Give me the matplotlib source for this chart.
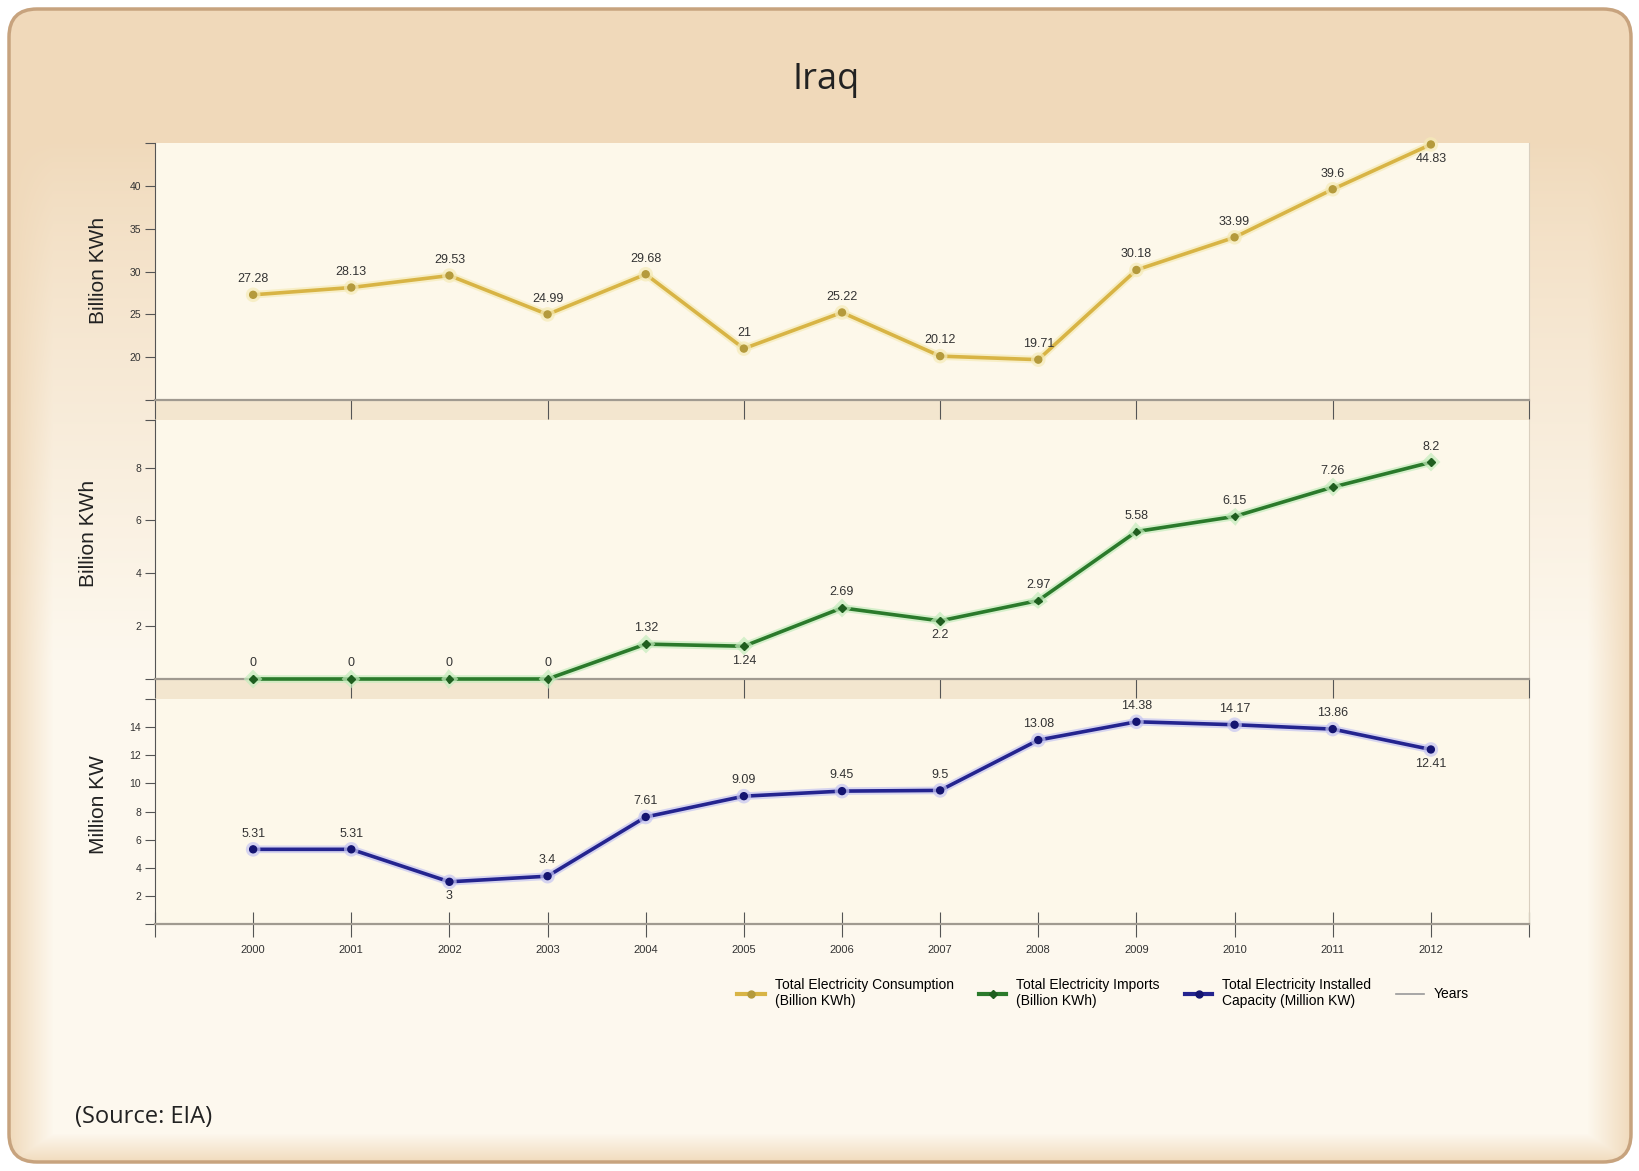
import matplotlib.pyplot as plt
import matplotlib.patheffects as pe
from matplotlib.patches import FancyBboxPatch, Rectangle
from matplotlib.lines import Line2D
import numpy as np

# data
years = [2000, 2001, 2002, 2003, 2004, 2005, 2006, 2007, 2008, 2009, 2010, 2011, 2012]
consumption = [27.28, 28.13, 29.53, 24.99, 29.68, 21, 25.22, 20.12, 19.71, 30.18, 33.99, 39.6, 44.83]
imports = [0, 0, 0, 0, 1.32, 1.24, 2.69, 2.2, 2.97, 5.58, 6.15, 7.26, 8.2]
capacity = [5.31, 5.31, 3, 3.4, 7.61, 9.09, 9.45, 9.5, 13.08, 14.38, 14.17, 13.86, 12.41]

# which labels sit under the point
cons_below = [2012]
imp_below = [2005, 2007]
cap_below = [2002, 2012]

W, H = 1640, 1171
fig = plt.figure(figsize=(W / 100, H / 100), dpi=100)
fig.patch.set_facecolor('white')

narrow = ['Liberation Sans Narrow', 'Liberation Sans', 'DejaVu Sans']

# background frame: tan at the top, fading to cream lower down
bg = fig.add_axes([0, 0, 1, 1])
bg.set_xlim(0, W)
bg.set_ylim(H, 0)
bg.axis('off')
xx, yy = np.meshgrid(np.arange(W), np.arange(H))
edge = np.clip(np.minimum.reduce([(xx - 8) / 45, (W - 8 - xx) / 45, (H - 8 - yy) / 30]), 0, 1)
v = np.clip((yy - 140) / 520, 0, 1) ** 0.8
t = v * edge
tan = np.array([240, 217, 186]) / 255
light = np.array([253, 248, 238]) / 255
img = tan[None, None, :] * (1 - t[..., None]) + light[None, None, :] * t[..., None]
frame = FancyBboxPatch((9, 9), W - 18, H - 18, boxstyle='round,pad=0,rounding_size=28',
                       facecolor='none', edgecolor='#c7a37e', lw=2.5)
bg.add_patch(frame)
im = bg.imshow(img, extent=(0, W, H, 0), zorder=0)
im.set_clip_path(frame)
bg.add_patch(Rectangle((155, 398), 1374, 305, facecolor='#f3e6cf', edgecolor='none', zorder=1))

fig.text(826 / W, 1 - 80 / H, 'Iraq', ha='center', va='center', fontsize=26,
         family=['Open Sans', 'DejaVu Sans'], color='#222222')
fig.text(75 / W, 1 - 1117 / H, '(Source: EIA)', ha='left', va='center', fontsize=17,
         family=['Open Sans', 'DejaVu Sans'], color='#222222')

left, width = 155 / W, 1374 / W
ax1 = fig.add_axes([left, 1 - 400 / H, width, (400 - 143) / H])
ax2 = fig.add_axes([left, 1 - 679 / H, width, (679 - 420) / H])
ax3 = fig.add_axes([left, 1 - 924 / H, width, (924 - 699) / H])


def style(ax, ylim, yticks, ylabels, every_year):
    ax.set_facecolor('#fdf8ea')
    ax.set_xlim(1999, 2013)
    ax.set_ylim(*ylim)
    ax.spines['top'].set_visible(False)
    ax.spines['right'].set_color('#d9cfbf')
    ax.spines['left'].set_color('#555555')
    ax.spines['bottom'].set_color('#a09a90')
    ax.spines['bottom'].set_linewidth(1.6)
    ax.set_yticks(yticks)
    ax.set_yticklabels(ylabels, fontsize=7.5, family=narrow, color='#333333')
    ax.tick_params(axis='y', direction='out', length=7, color='#555555', pad=3)
    if every_year:
        ax.set_xticks(range(1999, 2014))
        ax.set_xticklabels([''] + [str(y) for y in years] + [''], fontsize=8,
                           family=narrow, color='#333333')
        ax.tick_params(axis='x', direction='inout', length=18, color='#555555', pad=6)
    else:
        ax.set_xticks(range(1999, 2014, 2))
        ax.set_xticklabels([])
        ax.tick_params(axis='x', direction='out', length=14, color='#555555')


style(ax1, (15, 45), [15, 20, 25, 30, 35, 40, 45], ['', '20', '25', '30', '35', '40', ''], False)
style(ax2, (0, 9.8), [0, 2, 4, 6, 8, 9.8], ['', '2', '4', '6', '8', ''], False)
style(ax3, (0, 16), [0, 2, 4, 6, 8, 10, 12, 14, 16], ['', '2', '4', '6', '8', '10', '12', '14', ''], True)

series = [
    (ax1, consumption, cons_below, '#d8b445', '#b49a3c', '#f5ebb8', 'o'),
    (ax2, imports, imp_below, '#2b7a2b', '#1f5e1f', '#c4ecbd', 'D'),
    (ax3, capacity, cap_below, '#24248f', '#141470', '#c6c6f2', 'o'),
]
for ax, vals, below, col, mcol, glow, mk in series:
    ax.plot(years, vals, color=col, lw=2.6, marker=mk, markersize=5 if mk == 'o' else 4,
            markerfacecolor=mcol, markeredgecolor=mcol, clip_on=False, zorder=3,
            path_effects=[pe.Stroke(linewidth=5.5, foreground=glow, alpha=0.7), pe.Normal()])
    for x, v in zip(years, vals):
        if x in below:
            ax.annotate(f'{v:g}', (x, v), xytext=(0, -6), textcoords='offset points',
                        ha='center', va='top', fontsize=9, family=narrow, color='#333333')
        else:
            ax.annotate(f'{v:g}', (x, v), xytext=(0, 7), textcoords='offset points',
                        ha='center', va='bottom', fontsize=9, family=narrow, color='#333333')

lab_font = dict(rotation=90, ha='center', va='center', fontsize=15,
                family=['Liberation Sans', 'DejaVu Sans'], color='#222222')
fig.text(99 / W, 1 - 270 / H, 'Billion KWh', **lab_font)
fig.text(89 / W, 1 - 533 / H, 'Billion KWh', **lab_font)
fig.text(99 / W, 1 - 805 / H, 'Million KW', **lab_font)

handles = [
    Line2D([], [], color='#d8b445', lw=3, marker='o', markersize=5, markerfacecolor='#b49a3c',
           markeredgecolor='#b49a3c'),
    Line2D([], [], color='#2b7a2b', lw=3, marker='D', markersize=4, markerfacecolor='#1f5e1f',
           markeredgecolor='#1f5e1f'),
    Line2D([], [], color='#24248f', lw=3, marker='o', markersize=5, markerfacecolor='#141470',
           markeredgecolor='#141470'),
    Line2D([], [], color='#999999', lw=1.2),
]
labels = ['Total Electricity Consumption\n(Billion KWh)', 'Total Electricity Imports\n(Billion KWh)',
          'Total Electricity Installed\nCapacity (Million KW)', 'Years']
fig.legend(handles, labels, loc='center', bbox_to_anchor=(1103 / W, 1 - 993 / H), ncol=4,
           frameon=False, prop={'family': narrow, 'size': 10}, handlelength=2.0,
           columnspacing=1.8, handletextpad=0.7)

fig.savefig('out.png', dpi=100)
